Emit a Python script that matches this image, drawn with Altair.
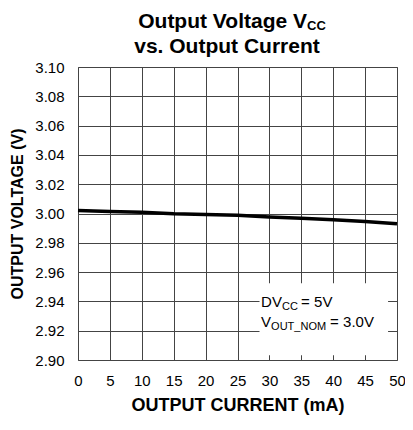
import altair as alt
import pandas as pd

# ---- data ----
current_ma = [0, 5, 10, 15, 20, 25, 30, 35, 40, 45, 50]
voltage_v = [3.0020, 3.0014, 3.0008, 2.9998, 2.9993, 2.9988, 2.9976, 2.9968, 2.9958, 2.9946, 2.9930]
x_ticks = [0, 5, 10, 15, 20, 25, 30, 35, 40, 45, 50]
y_ticks = [2.90, 2.92, 2.94, 2.96, 2.98, 3.00, 3.02, 3.04, 3.06, 3.08, 3.10]

# annotation box (data units) and its text pieces
box_x = [28.45, 48.6]
box_y = [2.9032, 2.9524]
note_x = 28.7
note_y = [2.9364, 2.9223]
note_pieces = [
    # (line, text, font size, dx, dy)
    (0, "DV", 15, 0, 0),
    (0, "CC", 11, 21, 3),
    (0, "= 5V", 15, 40, 0),
    (1, "V", 15, 0, 0),
    (1, "OUT_NOM", 11, 10, 3),
    (1, "= 3.0V", 15, 69, 0),
]

FONT = "Liberation Sans"
W, H = 319, 293
X_TITLE = "OUTPUT CURRENT (mA)"
Y_TITLE = "OUTPUT VOLTAGE (V)"

x_scale = alt.Scale(domain=[0, 50], nice=False)
y_scale = alt.Scale(domain=[2.90, 3.10], nice=False, zero=False)

x_axis = alt.Axis(
    values=x_ticks, title=X_TITLE, ticks=False, tickSize=0, domain=False,
    grid=True, gridColor="#444", gridWidth=1, gridOpacity=1,
    labelFont=FONT, labelFontSize=15, labelColor="black", labelPadding=13,
    labelFlush=False, labelOverlap=False,
    titleFont=FONT, titleFontSize=18, titleFontWeight="bold", titleColor="black",
    titleY=50, titleBaseline="alphabetic",
)
y_axis = alt.Axis(
    values=y_ticks, format=".2f", title=Y_TITLE, ticks=False, tickSize=0,
    domain=False, grid=True, gridColor="#444", gridWidth=1, gridOpacity=1,
    labelFont=FONT, labelFontSize=15, labelColor="black", labelPadding=14,
    labelFlush=False, labelOverlap=False,
    titleFont=FONT, titleFontSize=16, titleFontWeight="bold", titleColor="black",
    titleX=-56, titleY=H / 2, titleBaseline="alphabetic", titleAngle=270,
)


def enc_x(field="current:Q"):
    return alt.X(field, scale=x_scale, axis=x_axis)


def enc_y(field="voltage:Q"):
    return alt.Y(field, scale=y_scale, axis=y_axis)


df = pd.DataFrame({"current": current_ma, "voltage": voltage_v})

line = alt.Chart(df).mark_line(color="black", strokeWidth=3.5).encode(
    x=enc_x(), y=enc_y(),
)

box_df = pd.DataFrame({"current": [box_x[0]], "current2": [box_x[1]],
                       "voltage": [box_y[0]], "voltage2": [box_y[1]]})
box = alt.Chart(box_df).mark_rect(fill="white").encode(
    x=enc_x(), x2="current2:Q", y=enc_y(), y2="voltage2:Q",
)

layers = [line, box]
for ln, txt, size, dx, dy in note_pieces:
    tdf = pd.DataFrame({"current": [note_x], "voltage": [note_y[ln]], "label": [txt]})
    layers.append(
        alt.Chart(tdf).mark_text(
            align="left", baseline="alphabetic", font=FONT, fontSize=size,
            color="black", dx=dx, dy=dy,
        ).encode(x=enc_x(), y=enc_y(), text="label:N")
    )

# title (two lines, with subscript)
title_df = pd.DataFrame({"t1": ["Output Voltage V"], "t2": ["CC"], "t3": ["vs. Output Current"]})
t1 = alt.Chart(title_df).mark_text(
    align="right", baseline="alphabetic", font=FONT, fontSize=21, fontWeight="bold", color="black"
).encode(x=alt.value(229), y=alt.value(-39), text="t1:N")
t2 = alt.Chart(title_df).mark_text(
    align="left", baseline="alphabetic", font=FONT, fontSize=13, fontWeight="bold", color="black"
).encode(x=alt.value(229), y=alt.value(-37), text="t2:N")
t3 = alt.Chart(title_df).mark_text(
    align="center", baseline="alphabetic", font=FONT, fontSize=21, fontWeight="bold", color="black"
).encode(x=alt.value(149), y=alt.value(-14), text="t3:N")
layers += [t1, t2, t3]

chart = alt.layer(*layers).properties(
    width=W, height=H,
    autosize=alt.AutoSizeParams(type="none"),
    padding={"left": 70, "top": 59, "right": 8, "bottom": 56},
).configure_view(stroke="#666", strokeWidth=1)

chart.save("out.html", embed_options={"renderer": "svg", "actions": False})
